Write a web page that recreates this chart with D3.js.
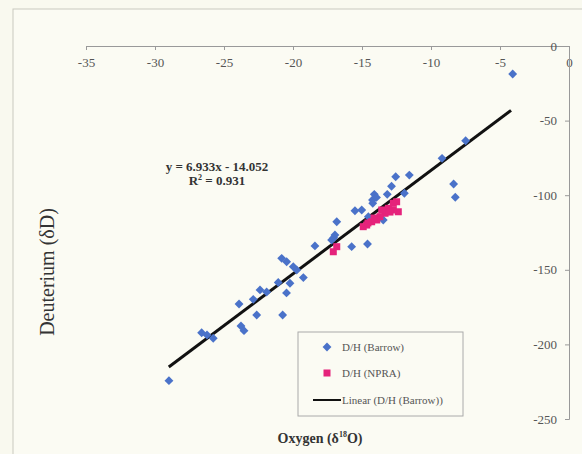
<!DOCTYPE html>
<html>
<head>
<meta charset="utf-8">
<script src="https://cdn.jsdelivr.net/npm/d3@7"></script>
<style>
  body { margin: 0; background: #f9f9ef; }
  svg { display: block; }
  .tick text { font-family: "Liberation Serif", "Times New Roman", serif; font-size: 13px; fill: #555; }
  .tick line, .domain { stroke: #999; }
</style>
</head>
<body>
<div id="chart"></div>
<script>
// data (oxygen d18O, deuterium dD)
let barrowX = [-4.08, -7.49, -9.20, -8.36, -8.24, -11.57, -12.56, -12.86, -13.17, -11.93,
  -14.11, -14.24, -14.22, -15.02, -15.51, -13.46, -14.54, -16.83, -16.96, -17.20,
  -18.41, -15.75, -14.60, -20.82, -20.46, -19.98, -19.73, -19.25, -20.22, -21.07,
  -20.47, -20.75, -21.91, -22.39, -22.88, -22.63, -23.91, -23.77, -23.55, -26.62,
  -25.78, -26.23, -28.99, -13.95, -17.05];
let barrowY = [-18.8, -63.5, -75.3, -92.5, -101.4, -86.5, -87.6, -94.0, -99.4, -98.7,
  -99.4, -103.2, -105.4, -109.9, -110.4, -116.6, -114.4, -117.8, -126.7, -130.0,
  -134.0, -134.5, -132.7, -142.3, -144.6, -147.9, -150.1, -155.2, -159.0, -158.5,
  -165.5, -180.3, -164.9, -163.5, -169.8, -180.3, -172.9, -187.7, -190.8, -192.2,
  -195.9, -193.7, -224.3, -101.5, -128.5];

let npraX = [-12.49, -12.37, -12.73, -13.09, -13.33, -13.70, -13.93, -14.30, -14.66, -14.91,
  -12.73, -13.57, -16.83, -17.08, -14.13, -14.57, -12.97];
let npraY = [-104.4, -111.1, -109.9, -108.8, -112.1, -114.4, -116.6, -117.8, -120.0, -121.1,
  -105.4, -109.9, -134.5, -137.9, -115.3, -118.6, -111.3];

// linear fit of the Barrow series
let slope = 6.933;
let intercept = -14.052;
let fitRange = [-29, -4.2];

let xTicks = [-35, -30, -25, -20, -15, -10, -5, 0];
let yTicks = [0, -50, -100, -150, -200, -250];

let legendLabels = ["D/H (Barrow)", "D/H (NPRA)", "Linear (D/H (Barrow))"];

let svgWidth = 582, svgHeight = 454;
let blue = "#4a72c9", pink = "#e5237b";
let serif = '"Liberation Serif", "Times New Roman", serif';

let svg = d3.select("#chart").append("svg")
  .attr("width", svgWidth)
  .attr("height", svgHeight);

// frame of the figure
svg.append("rect")
  .attr("x", 13).attr("y", 9)
  .attr("width", 620).attr("height", 500)
  .attr("fill", "#fbfbf3")
  .attr("stroke", "#c9c9c0");

let x = d3.scaleLinear().domain([-35, 0]).range([86, 569]);
let y = d3.scaleLinear().domain([0, -250]).range([46, 419]);

// plain hyphen for negatives, like the original
let fmt = d => String(d);

// axes: x on top, y on the right
svg.append("g")
  .attr("transform", `translate(0, ${y(0)})`)
  .call(d3.axisBottom(x).tickValues(xTicks).tickSize(4).tickPadding(8).tickFormat(fmt));

svg.append("g")
  .attr("transform", `translate(${x(0)}, 0)`)
  .call(d3.axisLeft(y).tickValues(yTicks).tickSize(4).tickPadding(8).tickFormat(fmt));

// trend line
svg.append("line")
  .attr("x1", x(fitRange[0])).attr("y1", y(slope * fitRange[0] + intercept))
  .attr("x2", x(fitRange[1])).attr("y2", y(slope * fitRange[1] + intercept))
  .attr("stroke", "#111")
  .attr("stroke-width", 3);

let diamond = d3.symbol().type(d3.symbolDiamond2).size(50);

// Barrow points
svg.append("g").selectAll("path")
  .data(barrowX.map((v, i) => [v, barrowY[i]]))
  .enter()
  .append("path")
  .attr("d", diamond)
  .attr("transform", d => `translate(${x(d[0])}, ${y(d[1])})`)
  .attr("fill", blue);

// NPRA points
svg.append("g").selectAll("rect")
  .data(npraX.map((v, i) => [v, npraY[i]]))
  .enter()
  .append("rect")
  .attr("x", d => x(d[0]) - 3.5)
  .attr("y", d => y(d[1]) - 3.5)
  .attr("width", 7).attr("height", 7)
  .attr("fill", pink);

// equation
let eq = svg.append("text")
  .attr("text-anchor", "middle")
  .attr("font-family", serif)
  .attr("font-size", 13)
  .attr("font-weight", "bold")
  .attr("fill", "#333");
eq.append("tspan").attr("x", 217).attr("y", 171).text(`y = ${slope}x - ${Math.abs(intercept).toFixed(3)}`);
let r2 = eq.append("tspan").attr("x", 217).attr("y", 185).text("R");
r2.append("tspan").attr("font-size", 8).attr("dy", -5).text("2");
r2.append("tspan").attr("dy", 5).text(" = 0.931");

// legend
let legend = svg.append("g");
legend.append("rect")
  .attr("x", 298).attr("y", 332)
  .attr("width", 165).attr("height", 84)
  .attr("fill", "#fbfbf3")
  .attr("stroke", "#aaa");

legend.append("path")
  .attr("d", diamond)
  .attr("transform", "translate(327, 347)")
  .attr("fill", blue);
legend.append("rect")
  .attr("x", 323.5).attr("y", 369.5)
  .attr("width", 7).attr("height", 7)
  .attr("fill", pink);
legend.append("line")
  .attr("x1", 313).attr("x2", 341)
  .attr("y1", 400).attr("y2", 400)
  .attr("stroke", "#111").attr("stroke-width", 2);

legend.selectAll("text.lab")
  .data(legendLabels)
  .enter()
  .append("text")
  .attr("class", "lab")
  .attr("x", 342)
  .attr("y", (d, i) => [351, 377, 404][i])
  .attr("font-family", serif)
  .attr("font-size", 11)
  .attr("fill", "#555")
  .text(d => d);

// axis titles
svg.append("text")
  .attr("transform", "translate(54, 272) rotate(-90)")
  .attr("text-anchor", "middle")
  .attr("font-family", serif)
  .attr("font-size", 20)
  .attr("fill", "#333")
  .text("Deuterium (δD)");

let xt = svg.append("text")
  .attr("x", 320).attr("y", 443)
  .attr("text-anchor", "middle")
  .attr("font-family", serif)
  .attr("font-size", 14)
  .attr("font-weight", "bold")
  .attr("fill", "#333");
xt.append("tspan").text("Oxygen (δ");
xt.append("tspan").attr("font-size", 8).attr("dy", -6).text("18");
xt.append("tspan").attr("dy", 6).text("O)");
</script>
</body>
</html>
